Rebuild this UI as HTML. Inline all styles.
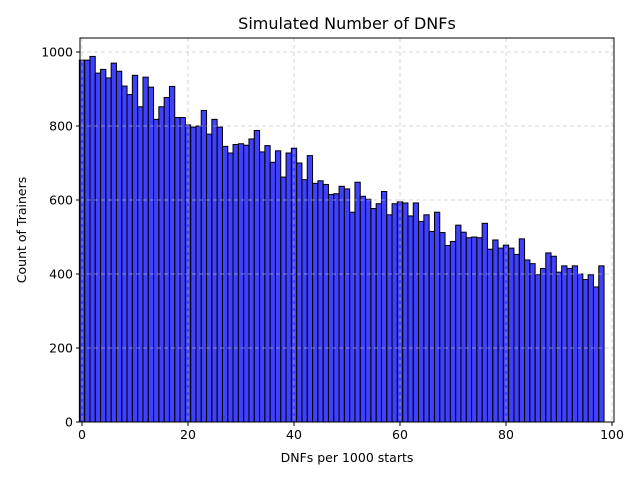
<!DOCTYPE html>
<html><head><meta charset="utf-8"><style>
body{margin:0;background:#fff;font-family:"Liberation Sans","DejaVu Sans",sans-serif}
</style></head><body>
<svg id="chart" width="640" height="480" xmlns="http://www.w3.org/2000/svg">
<rect width="640" height="480" fill="#fff"/>
<text x="347" y="29" text-anchor="middle" font-size="16" font-family="DejaVu Sans, sans-serif">Simulated Number of DNFs</text>
<g id="bars"></g>
<g id="grid"></g>
<g id="axes"></g>
<text x="347" y="462" text-anchor="middle" font-size="12.5" font-family="DejaVu Sans, sans-serif">DNFs per 1000 starts</text>
<text transform="translate(26,230) rotate(-90)" text-anchor="middle" font-size="12.5" font-family="DejaVu Sans, sans-serif">Count of Trainers</text>
</svg>
<script>
const bins=[];for(let i=0;i<99;i++)bins.push(i);
const counts=[978,978,988,943,953,930,970,948,908,885,937,852,932,905,818,852,877,907,823,823,803,797,800,842,778,818,797,745,727,750,752,748,765,788,730,747,702,733,662,727,740,700,655,720,645,652,642,615,617,637,630,567,648,610,602,577,590,623,560,590,595,592,557,592,542,560,515,567,512,477,488,532,513,498,500,498,537,467,492,470,478,470,453,495,438,428,398,415,457,448,405,422,415,422,400,385,398,365,422];
const xTicks=[0,20,40,60,80,100];
const yTicks=[0,200,400,600,800,1000];
const L=80,R=614,T=38,B=422;
const x=v=>82+v*5.3;
const y=v=>422-v*0.37;
const NS="http://www.w3.org/2000/svg";
function mk(tag,attrs,parent){const e=document.createElementNS(NS,tag);for(const k in attrs)e.setAttribute(k,attrs[k]);parent.appendChild(e);return e;}
const grid=document.getElementById('grid'),bars=document.getElementById('bars'),axes=document.getElementById('axes');
xTicks.forEach(t=>{
 const g=mk('line',{x1:x(t),x2:x(t),y1:T,y2:B,stroke:'#c0c0c0','stroke-dasharray':'4,3','stroke-width':0.8,'stroke-opacity':0.8},grid);
 
 
 mk('line',{x1:x(t),x2:x(t),y1:B,y2:B+4,stroke:'#000'},axes);
 const tx=mk('text',{x:x(t),y:B+17,'text-anchor':'middle','font-size':12.5,'font-family':'DejaVu Sans, sans-serif'},axes);
 tx.textContent=t;
 
 
});
yTicks.forEach(t=>{
 const g=mk('line',{x1:L,x2:R,y1:y(t),y2:y(t),stroke:'#c0c0c0','stroke-dasharray':'4,3','stroke-width':0.8,'stroke-opacity':0.8},grid);
 
 
 mk('line',{x1:L-4,x2:L,y1:y(t),y2:y(t),stroke:'#000'},axes);
 const tx=mk('text',{x:L-7,y:y(t)+4.5,'text-anchor':'end','font-size':12.5,'font-family':'DejaVu Sans, sans-serif'},axes);
 tx.textContent=t;
 
 
});
bins.forEach((b,i)=>{
 const x0=x(b-0.5),x1=x(b+0.5);
 const r=mk('rect',{x:x0,y:y(counts[i]),width:x1-x0,height:y(0)-y(counts[i]),fill:'rgba(0,0,255,0.75)',stroke:'#000','stroke-width':1},bars);
 
 
});
const fr=mk('rect',{x:L,y:T,width:R-L,height:B-T,fill:'none',stroke:'#000','stroke-width':1},axes);


</script>
</body></html>
